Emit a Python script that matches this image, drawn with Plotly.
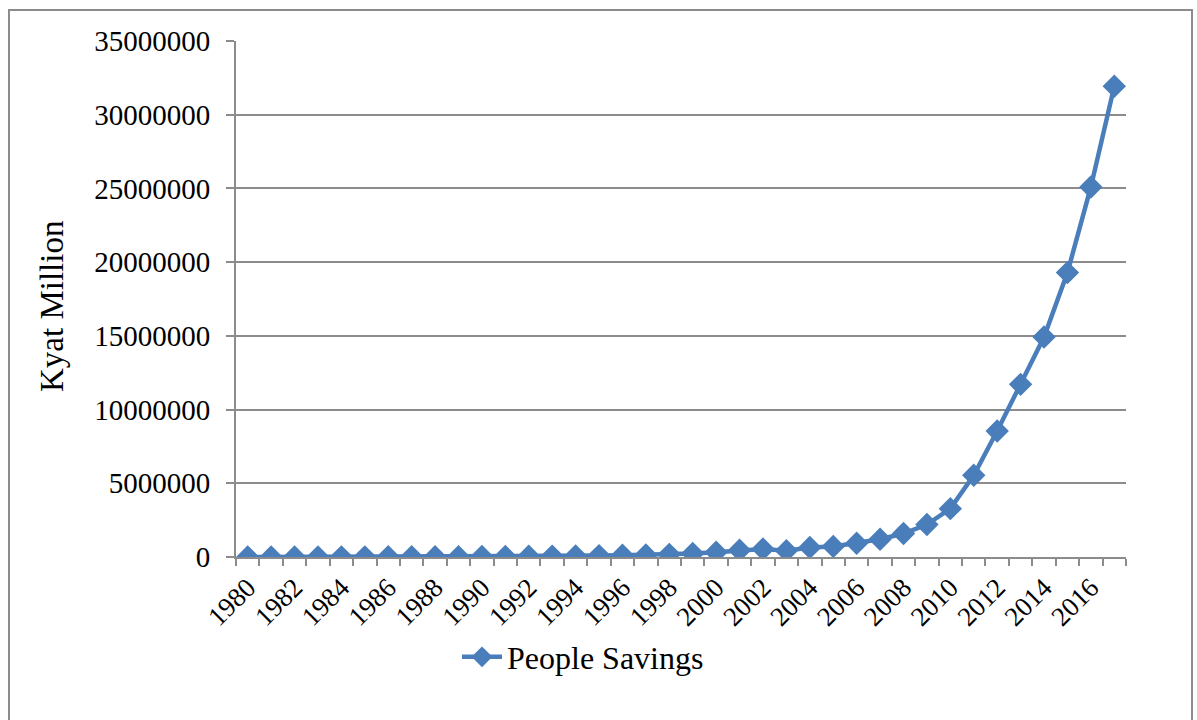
import plotly.graph_objects as go

# People savings, Kyat million, 1980-2017
years = list(range(1980, 2018))
savings = [
    5000, 6000, 7000, 8000, 9000, 10000, 12000, 14000, 17000, 22000,
    30000, 38000, 47000, 60000, 75000, 95000, 115000, 140000, 180000, 240000,
    330000, 460000, 540000, 430000, 650000, 720000, 930000, 1200000, 1590000, 2200000,
    3280000, 5540000, 8550000, 11710000, 14920000, 19290000, 25100000, 31930000,
]
x_tick_years = list(range(1980, 2017, 2))
y_ticks = [0, 5000000, 10000000, 15000000, 20000000, 25000000, 30000000, 35000000]

W, H = 1197, 720
L, R, T, B = 236, 71, 41, 163
pw, ph = W - L - R, H - T - B


def px_x(x):
    return (x - L) / pw


def px_y(y):
    return (H - B - y) / ph


GRID = "#8c8c8c"
BLUE = "#4a7ebb"
FONT = "Liberation Serif, Times New Roman, serif"

fig = go.Figure()
fig.add_trace(go.Scatter(
    x=years, y=savings, mode="lines+markers", name="People Savings",
    line=dict(color=BLUE, width=4.5),
    marker=dict(symbol="diamond", size=18, color=BLUE),
))

fig.update_layout(
    width=W, height=H,
    margin=dict(l=L, r=R, t=T, b=B, autoexpand=False),
    paper_bgcolor="white", plot_bgcolor="white",
    font=dict(family=FONT, color="black"),
    showlegend=True,
    legend=dict(x=px_x(583), y=px_y(657), xanchor="center", yanchor="middle",
                orientation="h", font=dict(size=32, family=FONT),
                bgcolor="rgba(0,0,0,0)", itemwidth=40),
    xaxis=dict(
        range=[1979.5, 2017.5], showgrid=False, zeroline=False,
        showline=True, linecolor=GRID, linewidth=2,
        tickmode="array", tickvals=x_tick_years,
        ticktext=[str(y) for y in x_tick_years],
        ticks="", tickangle=-45, tickfont=dict(size=27, family=FONT),
        ticklabelstandoff=2,
        minor=dict(tickmode="linear", tick0=1979.5, dtick=1, ticks="outside",
                   ticklen=7, tickcolor=GRID, tickwidth=2, showgrid=False),
    ),
    yaxis=dict(
        range=[0, 35000000], tickmode="array", tickvals=y_ticks,
        ticktext=[str(v) for v in y_ticks],
        showgrid=True, gridcolor=GRID, gridwidth=2,
        zeroline=False, showline=True, linecolor=GRID, linewidth=2,
        ticks="outside", ticklen=8, tickcolor=GRID, tickwidth=2,
        tickfont=dict(size=29, family=FONT), ticklabelstandoff=10,
    ),
    annotations=[dict(
        text="Kyat Million", x=px_x(52), y=px_y(307), xref="paper", yref="paper",
        textangle=-90, showarrow=False, font=dict(size=33, family=FONT),
        xanchor="center", yanchor="middle",
    )],
    shapes=[dict(
        type="rect", xref="paper", yref="paper",
        x0=px_x(9), x1=px_x(1192), y0=px_y(730), y1=px_y(10),
        line=dict(color=GRID, width=2), fillcolor="rgba(0,0,0,0)", layer="below",
    )],
)

fig.write_html("out.html")
